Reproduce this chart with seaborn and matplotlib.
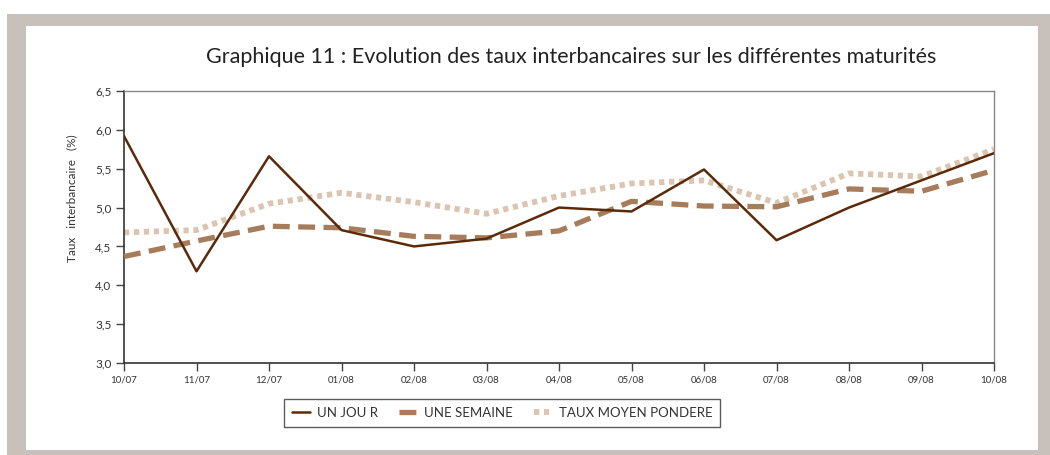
import matplotlib
matplotlib.use("Agg")
import matplotlib.pyplot as plt
import numpy as np
import pandas as pd
import seaborn as sns
from matplotlib.patches import Rectangle

# data
months = ['10/07', '11/07', '12/07', '01/08', '02/08', '03/08', '04/08',
          '05/08', '06/08', '07/08', '08/08', '09/08', '10/08']
un_jour = [5.92, 4.18, 5.66, 4.71, 4.50, 4.60, 5.00, 4.95, 5.49, 4.58, 5.00, 5.35, 5.70]
une_semaine = [4.37, 4.57, 4.76, 4.74, 4.63, 4.61, 4.70, 5.08, 5.02, 5.01, 5.24, 5.21, 5.48]
taux_moyen = [4.68, 4.71, 5.05, 5.19, 5.07, 4.92, 5.15, 5.31, 5.35, 5.06, 5.44, 5.40, 5.75]
yticks = [3.0, 3.5, 4.0, 4.5, 5.0, 5.5, 6.0, 6.5]

df = pd.DataFrame({'mois': months, 'UN JOU R': un_jour,
                   'UNE SEMAINE': une_semaine, 'TAUX MOYEN PONDERE': taux_moyen})
df['pos'] = np.arange(len(months))

sns.set_style("white")
plt.rcParams['font.family'] = ['Lato', 'DejaVu Sans']

fig = plt.figure(figsize=(10.5, 4.55), dpi=100)
W, H = 1050, 455
# grey frame round the chart
fig.patches.append(Rectangle((7 / W, 0), 1 - 7 / W, 1 - 14 / H, transform=fig.transFigure,
                             facecolor='#c8c0bb', edgecolor='none', zorder=-2))
fig.patches.append(Rectangle((26 / W, 5 / H), (1038 - 26) / W, (450 - 26) / H,
                             transform=fig.transFigure, facecolor='white',
                             edgecolor='none', zorder=-1))

ax = fig.add_axes([124 / W, 1 - 363 / H, (994 - 124) / W, (363 - 91) / H])
ax.set_facecolor('none')

sns.lineplot(data=df, x='pos', y='UN JOU R', ax=ax, color='#5a2a0a', lw=1.8,
             label='UN JOU R', zorder=4)
sns.lineplot(data=df, x='pos', y='UNE SEMAINE', ax=ax, color='#a67c5b', lw=3.8,
             label='UNE SEMAINE', zorder=3)
sns.lineplot(data=df, x='pos', y='TAUX MOYEN PONDERE', ax=ax, color='#dcc5b0', lw=4.2,
             label='TAUX MOYEN PONDERE', zorder=2)
ax.lines[1].set_dashes([3.2, 1.6])
ax.lines[2].set_dashes([0.9, 0.8])

ax.set_xlim(0, len(months) - 1)
ax.set_ylim(3.0, 6.5)
ax.set_xticks(df['pos'])
ax.set_xticklabels(months, fontsize=7, color='#333333')
ax.set_yticks(yticks)
ax.set_yticklabels([f"{v:.1f}".replace('.', ',') for v in yticks], fontsize=8.5, color='#333333')
ax.tick_params(axis='both', direction='out', length=6, width=1, color='#444444', pad=3)
ax.tick_params(left=True, bottom=True)
ax.set_xlabel('')
ax.set_ylabel('')
for s in ['left', 'bottom']:
    ax.spines[s].set_color('#333333')
    ax.spines[s].set_linewidth(1.2)
for s in ['top', 'right']:
    ax.spines[s].set_color('#888888')
    ax.spines[s].set_linewidth(1.0)

fig.text(571 / W, 1 - 57 / H, 'Graphique 11 : Evolution des taux interbancaires sur les différentes maturités',
         ha='center', va='center', fontsize=15.5, color='#222222')
fig.text(72 / W, 1 - 198 / H, 'Taux   interbancaire   (%)', rotation=90,
         ha='center', va='center', fontsize=8.5, color='#333333')

leg = ax.legend(loc='center', bbox_to_anchor=(502 / W, 1 - 413 / H),
                bbox_transform=fig.transFigure, ncol=3, frameon=True, fancybox=False,
                fontsize=9.5, handlelength=1.4, handletextpad=0.5, columnspacing=1.6,
                borderpad=0.6, labelspacing=0.2)
leg.get_frame().set_edgecolor('#333333')
leg.get_frame().set_linewidth(1.0)
for t in leg.get_texts():
    t.set_color('#333333')

fig.savefig('out.png', dpi=100)
